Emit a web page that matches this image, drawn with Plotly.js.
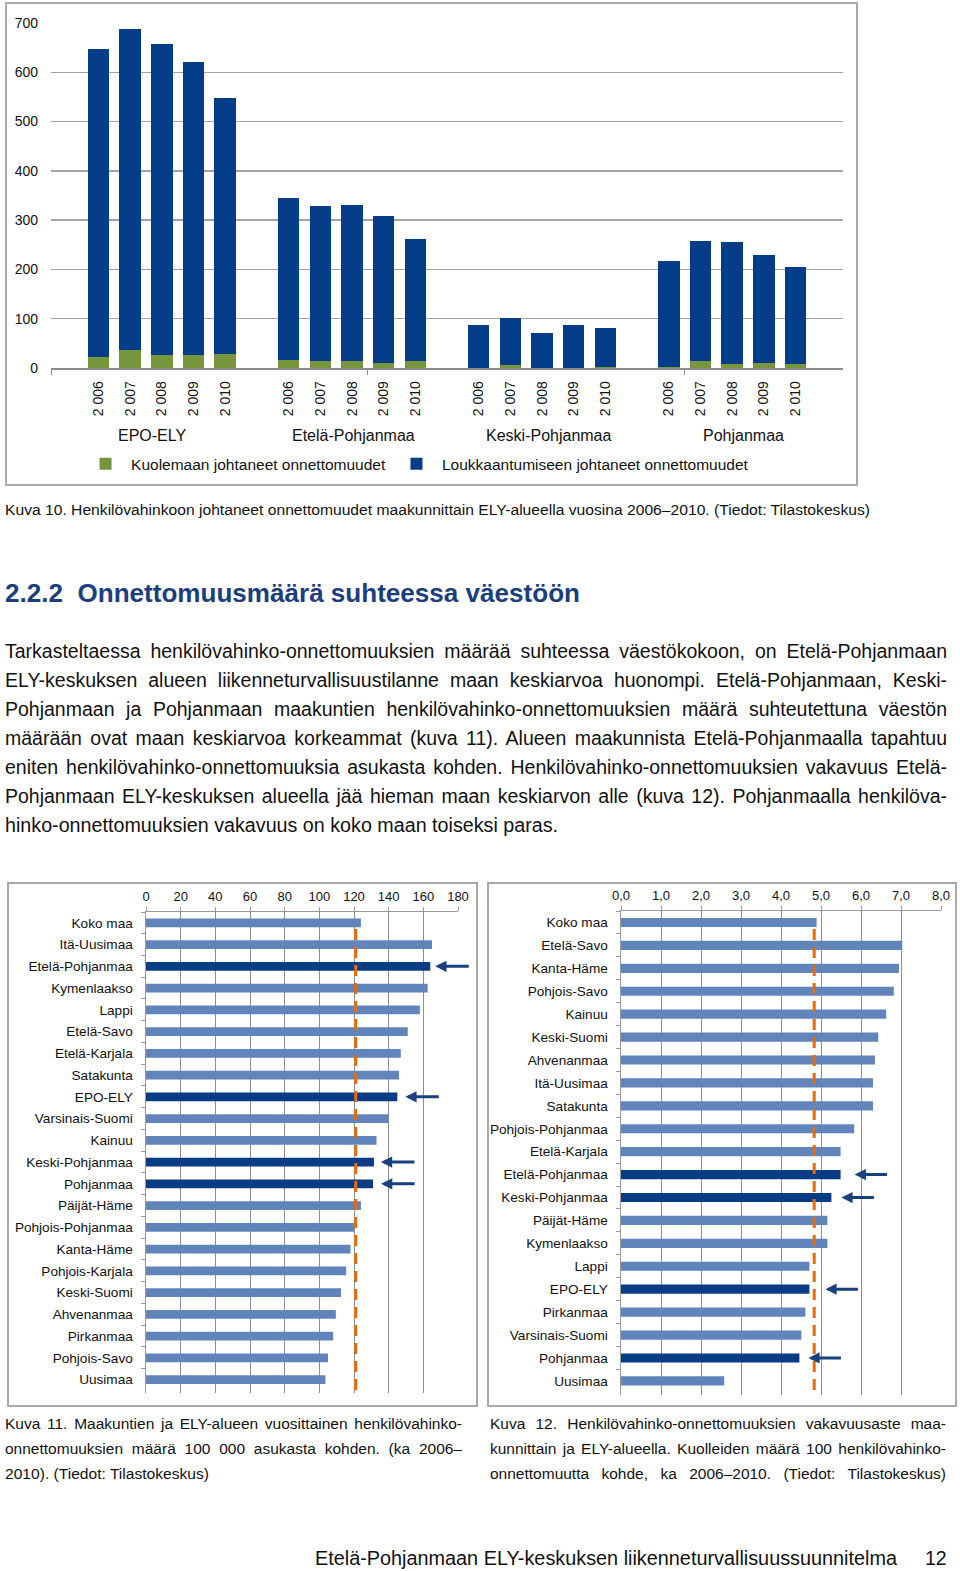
<!DOCTYPE html>
<html><head><meta charset="utf-8">
<script src="https://cdn.plot.ly/plotly-3.0.1.min.js"></script>
<style>
html,body{margin:0;padding:0;background:#fff;}
body{width:960px;height:1571px;position:relative;overflow:hidden;font-family:"Liberation Sans",Arial,Helvetica,sans-serif;color:#111;}
.frame{position:absolute;box-sizing:border-box;border:2px solid #a9a9a9;pointer-events:none;}
.plot{position:absolute;}
.line{position:absolute;white-space:nowrap;display:inline-block;transform-origin:left center;}
</style></head><body>
<div id="c10" class="plot" style="left:5px;top:2px;width:853px;height:484px"></div>
<div class="frame" style="left:5px;top:2px;width:853px;height:484px"></div>
<div id="c11" class="plot" style="left:7px;top:882px;width:471px;height:525px"></div>
<div class="frame" style="left:7px;top:882px;width:471px;height:525px"></div>
<div id="c12" class="plot" style="left:487px;top:882px;width:470px;height:525px"></div>
<div class="frame" style="left:487px;top:882px;width:470px;height:525px"></div>
<div id="texts"></div>
<script>
// ---------- Kuva 10 data ----------
const groups = ['EPO-ELY', 'Etelä-Pohjanmaa', 'Keski-Pohjanmaa', 'Pohjanmaa'];
const years = ['2 006', '2 007', '2 008', '2 009', '2 010'];
const seriesNames = ['Kuolemaan johtaneet onnettomuudet', 'Loukkaantumiseen johtaneet onnettomuudet'];
const kuolemaan = [23, 36, 26, 26, 28,  17, 14, 14, 11, 15,  1, 7, 1, 1, 3,  3, 14, 9, 11, 9];
const loukkaantumiseen = [624, 652, 631, 595, 520,  328, 314, 317, 298, 247,  86, 94, 71, 86, 79,  214, 244, 246, 218, 195];
const yTicks10 = [0, 100, 200, 300, 400, 500, 600, 700];

// ---------- Kuva 11 data ----------
const regions11 = ['Koko maa', 'Itä-Uusimaa', 'Etelä-Pohjanmaa', 'Kymenlaakso', 'Lappi', 'Etelä-Savo', 'Etelä-Karjala', 'Satakunta', 'EPO-ELY', 'Varsinais-Suomi', 'Kainuu', 'Keski-Pohjanmaa', 'Pohjanmaa', 'Päijät-Häme', 'Pohjois-Pohjanmaa', 'Kanta-Häme', 'Pohjois-Karjala', 'Keski-Suomi', 'Ahvenanmaa', 'Pirkanmaa', 'Pohjois-Savo', 'Uusimaa'];
const values11 = [124, 165, 164, 162.5, 158, 151, 147, 146, 145, 140, 133, 131.5, 131, 124, 120, 118, 115.5, 112.5, 109.5, 108, 105, 103.5];
const average11 = 121;
const xTicks11 = [0, 20, 40, 60, 80, 100, 120, 140, 160, 180];

// ---------- Kuva 12 data ----------
const regions12 = ['Koko maa', 'Etelä-Savo', 'Kanta-Häme', 'Pohjois-Savo', 'Kainuu', 'Keski-Suomi', 'Ahvenanmaa', 'Itä-Uusimaa', 'Satakunta', 'Pohjois-Pohjanmaa', 'Etelä-Karjala', 'Etelä-Pohjanmaa', 'Keski-Pohjanmaa', 'Päijät-Häme', 'Kymenlaakso', 'Lappi', 'EPO-ELY', 'Pirkanmaa', 'Varsinais-Suomi', 'Pohjanmaa', 'Uusimaa'];
const values12 = [4.89, 7.03, 6.95, 6.82, 6.63, 6.43, 6.35, 6.3, 6.3, 5.83, 5.49, 5.49, 5.26, 5.16, 5.16, 4.71, 4.71, 4.61, 4.51, 4.46, 2.58];
const average12 = 4.83;
const xTicks12 = [0, 1, 2, 3, 4, 5, 6, 7, 8];

const highlighted = ['Etelä-Pohjanmaa', 'EPO-ELY', 'Keski-Pohjanmaa', 'Pohjanmaa'];

// ---------- styles ----------
const FONT = 'Liberation Sans, Arial, sans-serif';
const GREEN = '#77953d', NAVY = '#033d88', LIGHT = '#6185bb', DARK = '#083d86', ORANGE = '#e46c0a', ARROW = '#17407f';
const cfg = {staticPlot: true, displayModeBar: false};

// ---------- Chart 10 ----------
const slotsPerGroup = years.length + 1;
const xs = [], tickText = [];
groups.forEach((g, gi) => years.forEach((y, yi) => { xs.push(gi * slotsPerGroup + yi + 1.5); tickText.push(y); }));
const nSlots = groups.length * slotsPerGroup + 1;
const groupShift = [-9, 2, 7, 11];

Plotly.newPlot('c10', [
  {type: 'bar', x: xs, y: kuolemaan, name: seriesNames[0], marker: {color: GREEN}, width: 0.68},
  {type: 'bar', x: xs, y: loukkaantumiseen, name: seriesNames[1], marker: {color: NAVY}, width: 0.68}
], {
  width: 853, height: 484, margin: {l: 46, r: 15, t: 21, b: 118},
  barmode: 'stack', paper_bgcolor: 'rgba(0,0,0,0)', plot_bgcolor: 'rgba(0,0,0,0)',
  font: {family: FONT, color: '#111'},
  xaxis: {range: [0, nSlots], tickmode: 'array', tickvals: xs, ticktext: tickText, tickangle: -90,
    ticks: '', tickfont: {size: 14}, showgrid: false, zeroline: false, showline: true,
    linecolor: '#8c8c8c', linewidth: 1.5, ticklabelstandoff: 6,
    minor: {tickmode: 'array', tickvals: [0, 10, 20], ticks: 'outside', ticklen: 5, tickcolor: '#8c8c8c', tickwidth: 1, showgrid: false}},
  yaxis: {range: [0, 700], tickmode: 'array', tickvals: yTicks10, tickfont: {size: 14}, gridcolor: '#a4a4a4',
    gridwidth: 1.4, zeroline: false, showline: false, ticks: '', ticklabelstandoff: 12},
  showlegend: true,
  legend: {orientation: 'h', xref: 'container', yref: 'container', x: 0.088, y: 0.045, xanchor: 'left', yanchor: 'middle',
    font: {size: 15.5}, itemwidth: 41, traceorder: 'normal', bgcolor: 'rgba(0,0,0,0)'},
  annotations: groups.map((g, gi) => ({text: g, x: gi * slotsPerGroup + 1 + years.length / 2, xref: 'x', y: 0, yref: 'paper',
    yanchor: 'middle', yshift: -67, xshift: groupShift[gi], showarrow: false, font: {size: 16, color: '#111'}}))
}, cfg);

// ---------- horizontal bar helper ----------
function hbar(id, regions, values, avg, ticks, opts) {
  const colors = regions.map(r => highlighted.includes(r) ? DARK : LIGHT);
  const arrows = highlighted.map((r, i) => ({
    x: values[regions.indexOf(r)], y: r, xref: 'x', yref: 'y', text: '', showarrow: true,
    ax: opts.arrowLen, ay: 0, axref: 'pixel', ayref: 'pixel', xshift: opts.gaps[i],
    arrowhead: 2, arrowsize: 0.75, arrowwidth: 3, arrowcolor: ARROW, standoff: 0
  }));
  Plotly.newPlot(id, [{type: 'bar', orientation: 'h', y: regions, x: values, marker: {color: colors}, width: 0.4,
    hoverinfo: 'skip'}], {
    width: opts.w, height: 525, margin: opts.margin,
    paper_bgcolor: 'rgba(0,0,0,0)', plot_bgcolor: 'rgba(0,0,0,0)',
    font: {family: FONT, color: '#111'}, separators: ', ',
    xaxis: {side: 'top', range: [ticks[0], ticks[ticks.length - 1]], tickmode: 'array', tickvals: ticks,
      tickformat: opts.fmt, tickfont: {size: 13}, gridcolor: '#8f8f8f', gridwidth: 1, showline: true,
      linecolor: '#9a9a9a', linewidth: 1.5, ticks: 'outside', ticklen: 4, tickcolor: '#9a9a9a', zeroline: false},
    yaxis: {type: 'category', autorange: 'reversed', tickson: 'boundaries', ticks: 'outside', ticklen: 4,
      tickcolor: '#9a9a9a', showline: true, linecolor: '#9a9a9a', linewidth: 1.5, tickfont: {size: 13.6},
      showgrid: false, zeroline: false, ticklabelstandoff: 9},
    shapes: [{type: 'line', xref: 'x', yref: 'y', x0: avg, x1: avg, y0: 0.28, y1: regions.length - 0.45,
      line: {color: ORANGE, width: 3, dash: '11px,7px'}, layer: 'above'}],
    annotations: arrows
  }, cfg);
}
hbar('c11', regions11, values11, average11, xTicks11, {w: 471, margin: {l: 139, r: 20, t: 30, b: 14}, fmt: 'd', arrowLen: 35, gaps: [5, 8, 7, 8]});
hbar('c12', regions12, values12, average12, xTicks12, {w: 470, margin: {l: 134, r: 16, t: 29, b: 12}, fmt: '.1f', arrowLen: 34, gaps: [14, 16, 10, 9]});

// ---------- page text ----------
const textLines = [
  {t: 'Kuva 10. Henkilövahinkoon johtaneet onnettomuudet maakunnittain ELY-alueella vuosina 2006–2010. (Tiedot: Tilastokeskus)', x: 5, y: 500, w: 865, s: 15.5, lh: 20, mode: 'fit'},
  {t: '2.2.2\u00a0\u00a0Onnettomuusmäärä suhteessa väestöön', x: 5, y: 577, w: 575, s: 26, lh: 32, mode: 'fit', b: true, c: '#1b3e7e'},
  {t: 'Tarkasteltaessa henkilövahinko-onnettomuuksien määrää suhteessa väestökokoon, on Etelä-Pohjanmaan', x: 5, y: 637, w: 942, s: 19.5, lh: 29, mode: 'j'},
  {t: 'ELY-keskuksen alueen liikenneturvallisuustilanne maan keskiarvoa huonompi. Etelä-Pohjanmaan, Keski-', x: 5, y: 666, w: 942, s: 19.5, lh: 29, mode: 'j'},
  {t: 'Pohjanmaan ja Pohjanmaan maakuntien henkilövahinko-onnettomuuksien määrä suhteutettuna väestön', x: 5, y: 695, w: 942, s: 19.5, lh: 29, mode: 'j'},
  {t: 'määrään ovat maan keskiarvoa korkeammat (kuva 11). Alueen maakunnista Etelä-Pohjanmaalla tapahtuu', x: 5, y: 724, w: 942, s: 19.5, lh: 29, mode: 'j'},
  {t: 'eniten henkilövahinko-onnettomuuksia asukasta kohden. Henkilövahinko-onnettomuuksien vakavuus Etelä-', x: 5, y: 753, w: 942, s: 19.5, lh: 29, mode: 'j'},
  {t: 'Pohjanmaan ELY-keskuksen alueella jää hieman maan keskiarvon alle (kuva 12). Pohjanmaalla henkilöva-', x: 5, y: 782, w: 942, s: 19.5, lh: 29, mode: 'j'},
  {t: 'hinko-onnettomuuksien vakavuus on koko maan toiseksi paras.', x: 5, y: 811, w: 553, s: 19.5, lh: 29, mode: 'fit'},
  {t: 'Kuva 11. Maakuntien ja ELY-alueen vuosittainen henkilövahinko-', x: 5, y: 1411, w: 457, s: 15.5, lh: 25, mode: 'j'},
  {t: 'onnettomuuksien määrä 100 000 asukasta kohden. (ka 2006–', x: 5, y: 1436, w: 457, s: 15.5, lh: 25, mode: 'j'},
  {t: '2010). (Tiedot: Tilastokeskus)', x: 5, y: 1461, w: 204, s: 15.5, lh: 25, mode: 'fit'},
  {t: 'Kuva 12. Henkilövahinko-onnettomuuksien vakavuusaste maa-', x: 490, y: 1411, w: 456, s: 15.5, lh: 25, mode: 'j'},
  {t: 'kunnittain ja ELY-alueella. Kuolleiden määrä 100 henkilövahinko-', x: 490, y: 1436, w: 456, s: 15.5, lh: 25, mode: 'j'},
  {t: 'onnettomuutta kohde, ka 2006–2010. (Tiedot: Tilastokeskus)', x: 490, y: 1461, w: 456, s: 15.5, lh: 25, mode: 'j'},
  {t: 'Etelä-Pohjanmaan ELY-keskuksen liikenneturvallisuussuunnitelma', x: 315, y: 1545, w: 582, s: 19.5, lh: 26, mode: 'fit'},
  {t: '12', x: 925, y: 1545, w: 21, s: 19.5, lh: 26, mode: 'fit'}
];
const host = document.getElementById('texts');
textLines.forEach(L => {
  const el = document.createElement('span');
  el.className = 'line';
  el.textContent = L.t;
  el.style.left = L.x + 'px'; el.style.top = L.y + 'px';
  el.style.fontSize = L.s + 'px'; el.style.lineHeight = L.lh + 'px';
  if (L.b) el.style.fontWeight = 'bold';
  if (L.c) el.style.color = L.c;
  host.appendChild(el);
  const w = el.getBoundingClientRect().width;
  const spaces = (L.t.match(/ /g) || []).length;
  if (L.mode === 'j' && w < L.w && spaces) {
    el.style.wordSpacing = ((L.w - w) / spaces) + 'px';
  } else if (Math.abs(w - L.w) > 1) {
    el.style.transform = 'scaleX(' + (L.w / w) + ')';
  }
});
</script>
</body></html>
